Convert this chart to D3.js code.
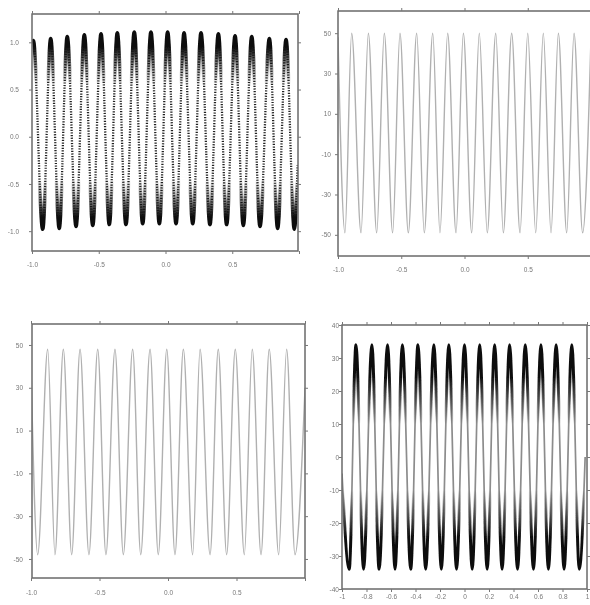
<!DOCTYPE html>
<html><head><meta charset="utf-8">
<script src="https://cdn.jsdelivr.net/npm/d3@7"></script>
<style>body{margin:0;background:#fff}svg{display:block}</style>
</head><body><svg id="c" width="590" height="605"></svg>
<script>
// ---------- DATA (successive extrema of each trace) ----------
// Panel 1 (top-left)
const p1X = [-1.0, -0.990, -0.920, -0.860, -0.796, -0.736, -0.670, -0.608, -0.545, -0.483, -0.421, -0.361, -0.296, -0.234, -0.171, -0.109, -0.046, 0.016, 0.079, 0.139, 0.204, 0.266, 0.333, 0.396, 0.458, 0.521, 0.583, 0.646, 0.708, 0.778, 0.840, 0.903, 0.965, 0.990];
const p1Y = [1.00, 1.02, -0.98, 1.04, -0.97, 1.06, -0.95, 1.08, -0.94, 1.09, -0.93, 1.10, -0.93, 1.11, -0.92, 1.11, -0.92, 1.11, -0.92, 1.10, -0.92, 1.10, -0.93, 1.09, -0.93, 1.07, -0.94, 1.06, -0.95, 1.04, -0.97, 1.03, -0.98, -0.30];
const p1XTicks = [-1, -0.5, 0, 0.5, 1];
const p1XLabels = ["-1.0", "-0.5", "0.0", "0.5", ""];
const p1YTicks = [1, 0.5, 0, -0.5, -1];
const p1YLabels = ["1.0", "0.5", "0.0", "-0.5", "-1.0"];

// Panel 2 (top-right)
const p2X = [-1.0, -0.945, -0.892, -0.818, -0.760, -0.694, -0.634, -0.568, -0.510, -0.444, -0.378, -0.318, -0.251, -0.194, -0.133, -0.067, -0.009, 0.057, 0.117, 0.180, 0.247, 0.307, 0.373, 0.439, 0.500, 0.563, 0.623, 0.684, 0.742, 0.808, 0.866, 0.934, 1.0];
const p2Y = [48, -49, 50, -49, 50, -49, 50, -49, 50, -49, 50, -49, 50, -49, 50, -49, 50, -49, 50, -49, 50, -49, 50, -49, 50, -49, 50, -49, 50, -49, 50, -49, 48];
const p2XTicks = [-1, -0.5, 0, 0.5, 1];
const p2XLabels = ["-1.0", "-0.5", "0.0", "0.5", ""];
const p2YTicks = [50, 30, 10, -10, -30, -50];
const p2YLabels = ["50", "30", "10", "-10", "-30", "-50"];

// Panel 3 (bottom-left)
const p3X = [-1.0, -0.951, -0.878, -0.825, -0.764, -0.703, -0.642, -0.577, -0.513, -0.453, -0.387, -0.326, -0.258, -0.199, -0.131, -0.071, -0.009, 0.051, 0.112, 0.180, 0.234, 0.307, 0.367, 0.428, 0.491, 0.557, 0.615, 0.679, 0.739, 0.808, 0.866, 0.927, 1.0];
const p3Y = [40, -48, 48, -48, 48, -48, 48, -48, 48, -48, 48, -48, 48, -48, 48, -48, 48, -48, 48, -48, 48, -48, 48, -48, 48, -48, 48, -48, 48, -48, 48, -48, 30];
const p3XTicks = [-1, -0.5, 0, 0.5, 1];
const p3XLabels = ["-1.0", "-0.5", "0.0", "0.5", ""];
const p3YTicks = [50, 30, 10, -10, -30, -50];
const p3YLabels = ["50", "30", "10", "-10", "-30", "-50"];

// Panel 4 (bottom-right)
const p4X = [-1.0, -0.941, -0.886, -0.824, -0.756, -0.697, -0.628, -0.567, -0.507, -0.439, -0.380, -0.317, -0.250, -0.189, -0.128, -0.065, 0.000, 0.063, 0.124, 0.185, 0.246, 0.307, 0.368, 0.433, 0.496, 0.563, 0.624, 0.685, 0.748, 0.813, 0.876, 0.937, 0.985];
const p4Y = [-5, -34, 34, -34, 34, -34, 34, -34, 34, -34, 34, -34, 34, -34, 34, -34, 34, -34, 34, -34, 34, -34, 34, -34, 34, -34, 34, -34, 34, -34, 34, -34, 0];
const p4XTicks = [-1, -0.8, -0.6, -0.4, -0.2, 0, 0.2, 0.4, 0.6, 0.8, 1];
const p4XLabels = ["-1", "-0.8", "-0.6", "-0.4", "-0.2", "0", "0.2", "0.4", "0.6", "0.8", "1"];
const p4YTicks = [40, 30, 20, 10, 0, -10, -20, -30, -40];
const p4YLabels = ["40", "30", "20", "10", "0", "-10", "-20", "-30", "-40"];

// ---------- LAYOUT / STYLE ----------
const panels = [
  {id: "p1", xs: p1X, ys: p1Y, xt: p1XTicks, xl: p1XLabels, yt: p1YTicks, yl: p1YLabels,
   fx0: 32, fx1: 298, fy0: 14, fy1: 251, xr: [32, 299], yd: [-1.21, 1.30],
   ylx: 19, xly: 267, base: {stroke: "#222", width: 2.3, dash: "1.2 1.4"},
   over: {width: 3.6, hi: 0.95, lo: 0.55, hiN: -0.85, loN: -0.45}},
  {id: "p2", xs: p2X, ys: p2Y, xt: p2XTicks, xl: p2XLabels, yt: p2YTicks, yl: p2YLabels,
   fx0: 338, fx1: 591, fy0: 11, fy1: 256, xr: [338, 591], yd: [-60.5, 61.0],
   ylx: 331, xly: 272, base: {stroke: "#b0b0b0", width: 1.4}},
  {id: "p3", xs: p3X, ys: p3Y, xt: p3XTicks, xl: p3XLabels, yt: p3YTicks, yl: p3YLabels,
   fx0: 32, fx1: 305, fy0: 324, fy1: 578, xr: [31, 305], yd: [-58.9, 59.8],
   ylx: 23, xly: 595, base: {stroke: "#b0b0b0", width: 1.4}},
  {id: "p4", xs: p4X, ys: p4Y, xt: p4XTicks, xl: p4XLabels, yt: p4YTicks, yl: p4YLabels,
   fx0: 342, fx1: 587, fy0: 325, fy1: 589, xr: [342, 587], yd: [-40, 40],
   ylx: 339, xly: 599, base: {stroke: "#8c8c8c", width: 1.7},
   over: {width: 3.0, hi: 24, lo: 10, hiN: -24, loN: -10}}
];

const svg = d3.select("#c");
const defs = svg.append("defs");
const FONT = "'Liberation Sans', Arial, sans-serif";
defs.append("filter").attr("id", "soft").attr("x", "-5%").attr("y", "-5%").attr("width", "110%").attr("height", "110%")
  .append("feGaussianBlur").attr("stdDeviation", 0.45);
defs.append("filter").attr("id", "softtext").attr("x", "-20%").attr("y", "-20%").attr("width", "140%").attr("height", "140%")
  .append("feGaussianBlur").attr("stdDeviation", 0.3);

panels.forEach(p => {
  const x = d3.scaleLinear().domain([-1, 1]).range(p.xr);
  const y = d3.scaleLinear().domain(p.yd).range([p.fy1, p.fy0]);
  const data = p.xs.map((v, i) => [v, p.ys[i]]);
  const g = svg.append("g");

  defs.append("clipPath").attr("id", p.id + "clip").append("rect")
    .attr("x", p.fx0).attr("y", p.fy0).attr("width", p.fx1 - p.fx0).attr("height", p.fy1 - p.fy0);

  const line = d3.line().x(d => x(d[0])).y(d => y(d[1])).curve(d3.curveMonotoneX);
  const cg = g.append("g").attr("clip-path", `url(#${p.id}clip)`)
    .append("g").attr("filter", "url(#soft)");

  const b = cg.append("path").datum(data).attr("d", line).attr("fill", "none")
    .attr("stroke", p.base.stroke).attr("stroke-width", p.base.width);
  if (p.base.dash) b.attr("stroke-dasharray", p.base.dash);

  if (p.over) {
    const o = p.over;
    const off = v => (y(v) - p.fy0) / (p.fy1 - p.fy0);
    const gr = defs.append("linearGradient").attr("id", p.id + "grad")
      .attr("gradientUnits", "userSpaceOnUse")
      .attr("x1", 0).attr("x2", 0).attr("y1", p.fy0).attr("y2", p.fy1);
    [[off(o.hi), 1], [off(o.lo), 0], [off(o.loN), 0], [off(o.hiN), 1]].forEach(([of, op]) => {
      gr.append("stop").attr("offset", of).attr("stop-color", "#111").attr("stop-opacity", op);
    });
    cg.append("path").datum(data).attr("d", line).attr("fill", "none")
      .attr("stroke", `url(#${p.id}grad)`).attr("stroke-width", o.width);
  }

  // frame
  g.append("rect").attr("x", p.fx0).attr("y", p.fy0)
    .attr("width", p.fx1 - p.fx0).attr("height", p.fy1 - p.fy0)
    .attr("fill", "none").attr("stroke", "#6a6a6a").attr("stroke-width", 1.5);

  // axes (ticks only; frame draws the domain)
  const styleAxis = sel => {
    sel.select(".domain").remove();
    sel.selectAll(".tick line").attr("stroke", "#777").attr("stroke-width", 1);
    sel.selectAll(".tick text").attr("fill", "#777").attr("font-size", 6.5).attr("font-family", FONT)
      .attr("filter", "url(#softtext)");
  };
  g.append("g").attr("transform", `translate(0,${p.fy1})`)
    .call(d3.axisBottom(x).tickValues(p.xt).tickSize(3).tickPadding(p.xly - p.fy1 - 8)
      .tickFormat((d, i) => p.xl[i])).call(styleAxis);
  g.append("g").attr("transform", `translate(0,${p.fy0})`)
    .call(d3.axisTop(x).tickValues(p.xt).tickSize(3).tickFormat("")).call(styleAxis);
  g.append("g").attr("transform", `translate(${p.fx0},0)`)
    .call(d3.axisLeft(y).tickValues(p.yt).tickSize(3).tickPadding(p.fx0 - p.ylx - 3)
      .tickFormat((d, i) => p.yl[i])).call(styleAxis);
  g.append("g").attr("transform", `translate(${p.fx1},0)`)
    .call(d3.axisRight(y).tickValues(p.yt).tickSize(3).tickFormat("")).call(styleAxis);
});
</script></body></html>
